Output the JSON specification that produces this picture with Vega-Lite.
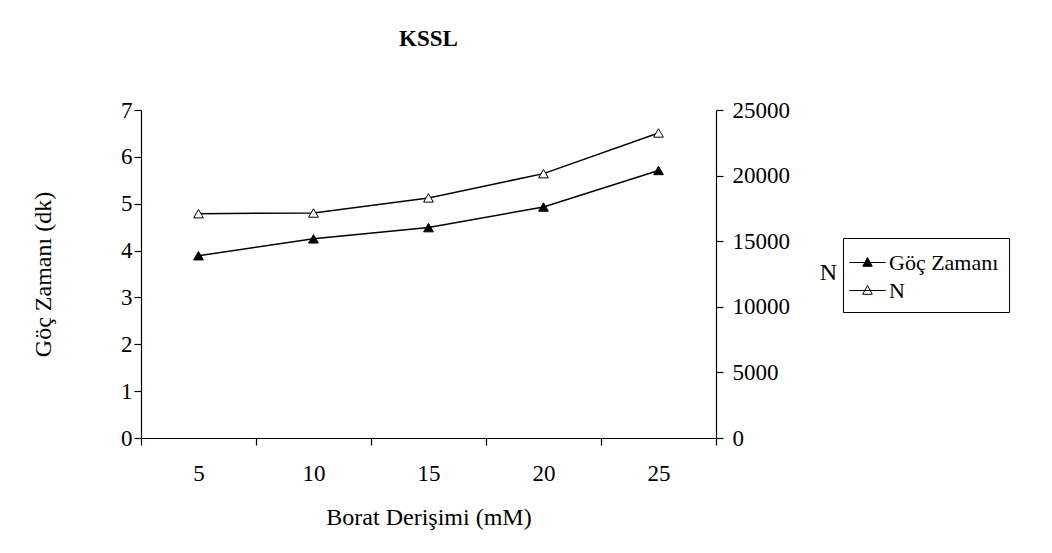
{
  "$schema": "https://vega.github.io/schema/vega-lite/v6.json",
  "autosize": {"type": "none"},
  "width": 575,
  "height": 328,
  "padding": {"left": 141, "top": 110, "right": 336, "bottom": 115},
  "background": "white",
  "config": {
    "view": {"stroke": null},
    "font": "Liberation Serif",
    "axis": {
      "labelFont": "Liberation Serif",
      "titleFont": "Liberation Serif",
      "labelFontSize": 23,
      "titleFontSize": 24,
      "titleFontWeight": "normal",
      "labelColor": "black",
      "titleColor": "black",
      "domainColor": "black",
      "tickColor": "black",
      "domainWidth": 1.2,
      "tickWidth": 1.2,
      "tickSize": 7,
      "grid": false
    },
    "legend": {
      "labelFont": "Liberation Serif",
      "labelFontSize": 22,
      "labelColor": "black"
    }
  },
  "title": {
    "text": "KSSL",
    "font": "Liberation Serif",
    "fontSize": 23,
    "fontWeight": "bold",
    "color": "black",
    "anchor": "middle",
    "frame": "group",
    "baseline": "bottom",
    "offset": 25
  },
  "data": {
    "values": [
      {"conc": "5", "goc": 3.89, "N": 17100},
      {"conc": "10", "goc": 4.25, "N": 17150},
      {"conc": "15", "goc": 4.49, "N": 18300},
      {"conc": "20", "goc": 4.93, "N": 20150},
      {"conc": "25", "goc": 5.71, "N": 23250}
    ]
  },
  "encoding": {
    "x": {
      "field": "conc",
      "type": "ordinal",
      "sort": null,
      "scale": {"type": "band", "paddingInner": 0, "paddingOuter": 0},
      "axis": {
        "title": "Borat Derişimi (mM)",
        "labelAngle": 0,
        "tickBand": "extent",
        "labelPadding": 17,
        "titlePadding": 20
      }
    }
  },
  "layer": [
    {
      "layer": [
        {
          "mark": {"type": "line", "color": "black", "strokeWidth": 1.5},
          "encoding": {
            "y": {
              "field": "goc",
              "type": "quantitative",
              "scale": {"domain": [0, 7], "nice": false},
              "axis": {
                "title": "Göç Zamanı (dk)",
                "orient": "left",
                "tickCount": 7,
                "labelPadding": 2,
                "titleX": -98,
                "titleY": 164,
                "titleAngle": -90,
                "titleAlign": "center",
                "titleBaseline": "middle"
              }
            }
          }
        },
        {
          "mark": {"type": "point", "shape": "triangle-up", "size": 95, "stroke": "black", "strokeWidth": 1, "opacity": 1, "filled": true},
          "encoding": {
            "y": {"field": "goc", "type": "quantitative"},
            "fill": {
              "datum": "Göç Zamanı",
              "type": "nominal",
              "scale": {"domain": ["Göç Zamanı", "N"], "range": ["black", "white"]},
              "legend": {
                "title": null,
                "orient": "none",
                "legendX": 702,
                "legendY": 128,
                "strokeColor": "black",
                "padding": 10,
                "symbolType": "M-1.3,0H1.3M0,-0.36L0.34,0.27H-0.34Z",
                "symbolSize": 784,
                "symbolStrokeColor": "black",
                "symbolStrokeWidth": 1,
                "symbolOpacity": 1,
                "labelOffset": 7,
                "rowPadding": 2,
                "fillColor": "white"
              }
            }
          }
        }
      ]
    },
    {
      "layer": [
        {
          "mark": {"type": "line", "color": "black", "strokeWidth": 1.5},
          "encoding": {
            "y": {
              "field": "N",
              "type": "quantitative",
              "scale": {"domain": [0, 25000], "nice": false},
              "axis": {
                "title": "N",
                "orient": "right",
                "values": [0, 5000, 10000, 15000, 20000, 25000],
                "format": "d",
                "labelPadding": 9,
                "titleAngle": 0,
                "titleX": 112,
                "titleY": 162,
                "titleAlign": "center",
                "titleBaseline": "middle"
              }
            }
          }
        },
        {
          "mark": {"type": "point", "shape": "triangle-up", "size": 95, "stroke": "black", "strokeWidth": 1, "opacity": 1, "filled": true},
          "encoding": {
            "y": {"field": "N", "type": "quantitative"},
            "fill": {"datum": "N", "type": "nominal"}
          }
        }
      ]
    }
  ],
  "resolve": {"scale": {"y": "independent"}}
}
